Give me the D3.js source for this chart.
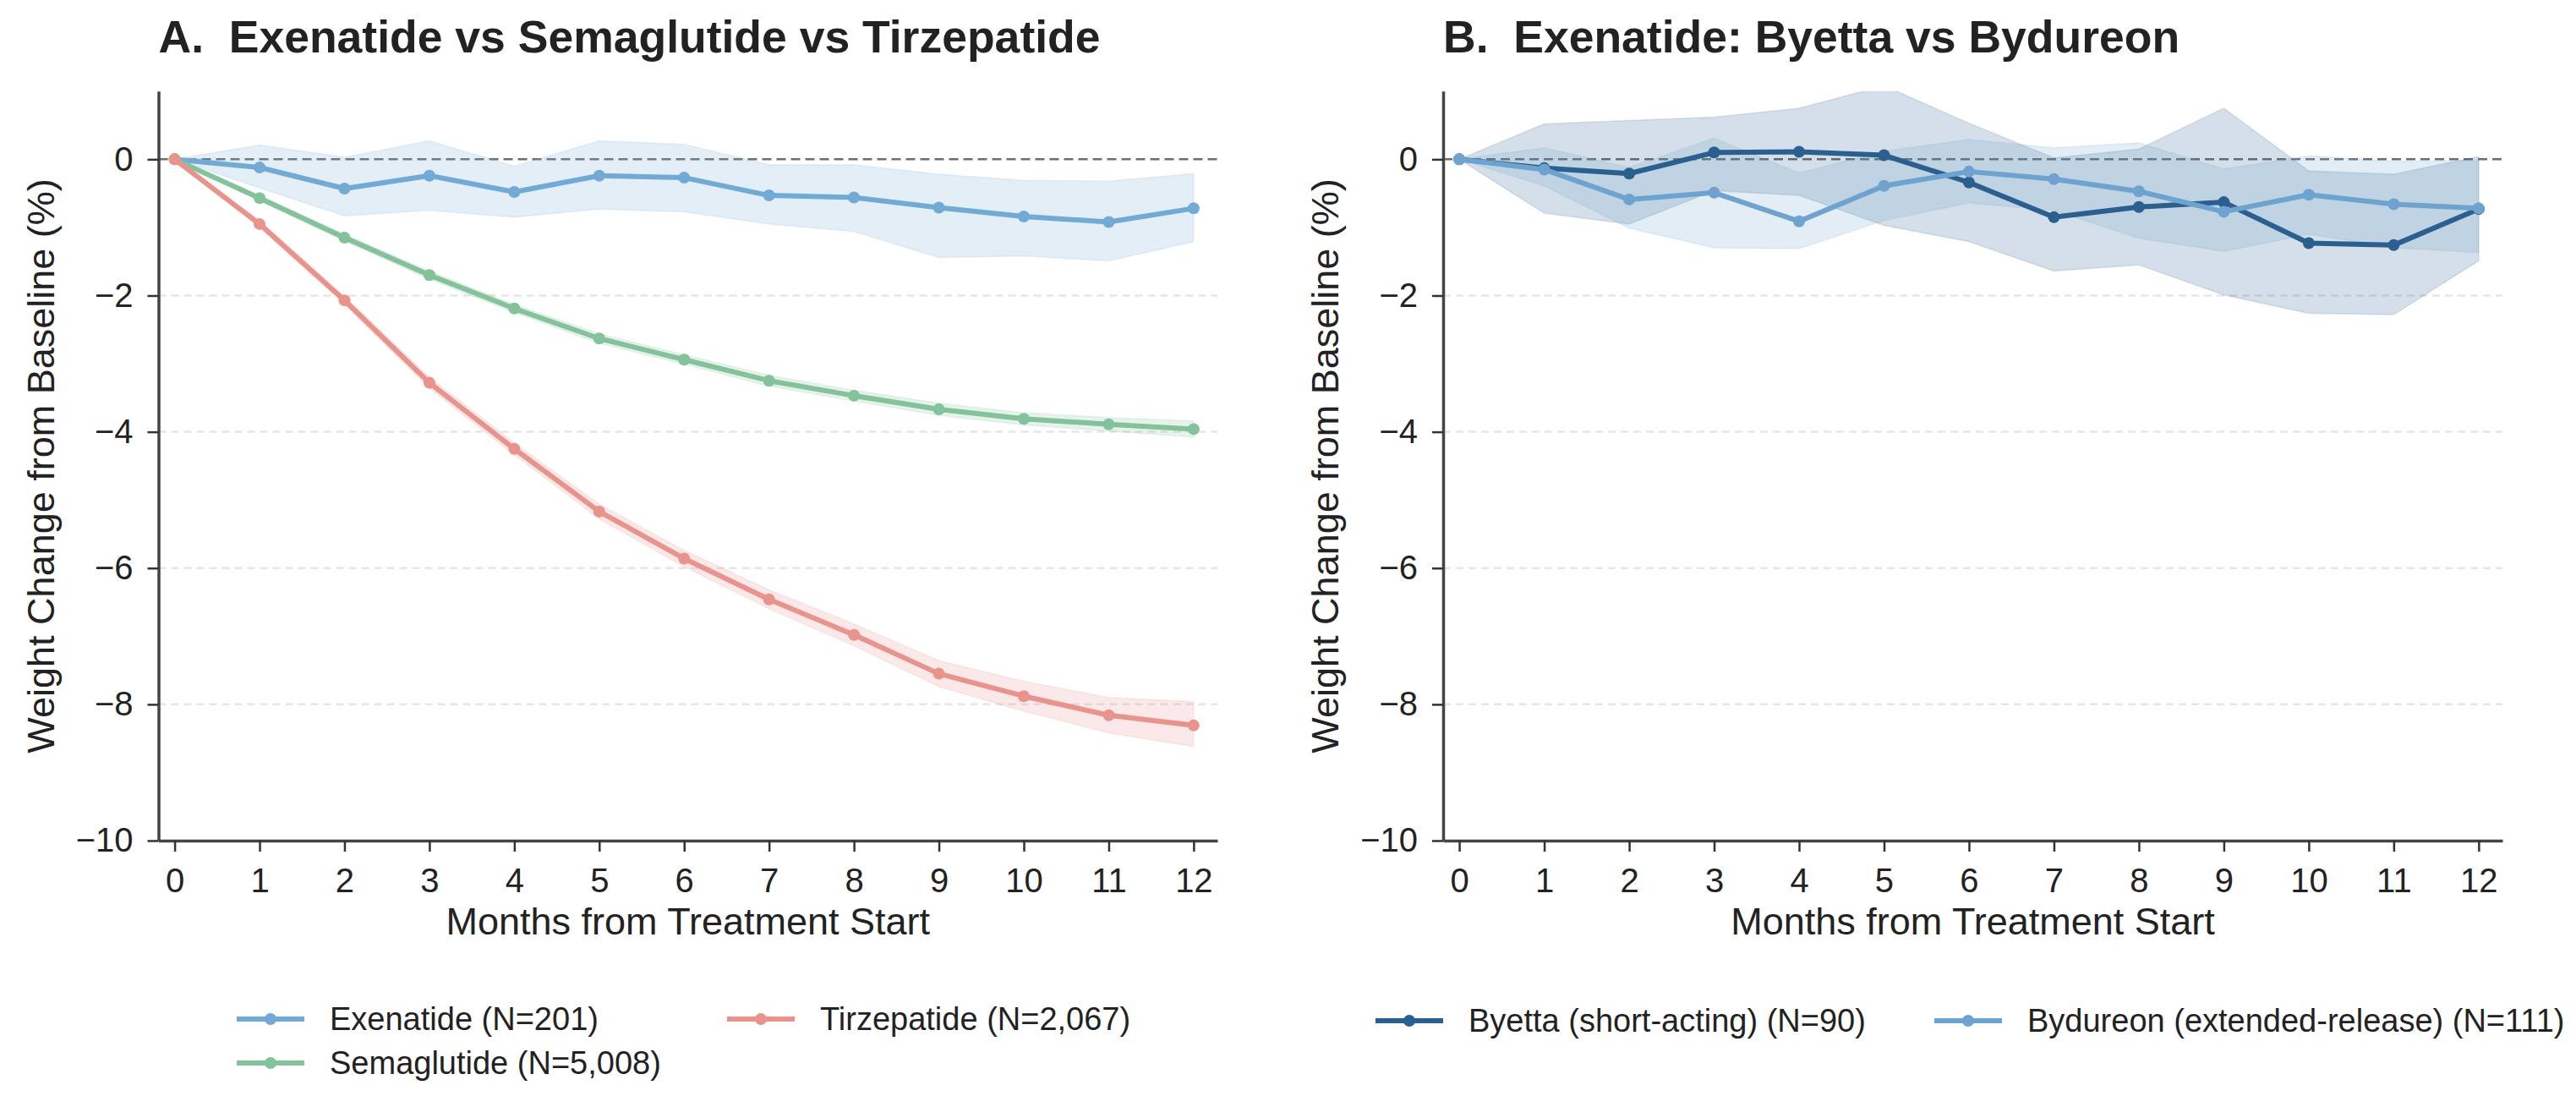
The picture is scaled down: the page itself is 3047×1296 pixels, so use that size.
<!DOCTYPE html>
<html>
<head>
<meta charset="utf-8">
<script src="https://cdnjs.cloudflare.com/ajax/libs/d3/7.8.5/d3.min.js"></script>
<style>
    body { margin: 0; background: #fff; }
    text { font-family: "Liberation Sans", Arial, Helvetica, sans-serif; fill: #222; }
</style>
</head>
<body>
<script>
// months from treatment start
var months = [0, 1, 2, 3, 4, 5, 6, 7, 8, 9, 10, 11, 12];
var yTicks = [-10, -8, -6, -4, -2, 0];

// panel A
var exenatideMean = [0, -0.12, -0.43, -0.24, -0.48, -0.24, -0.27, -0.53, -0.56, -0.71, -0.84, -0.92, -0.72];
var exenatideHi = [0, 0.21, 0.03, 0.27, -0.10, 0.27, 0.22, -0.08, -0.08, -0.22, -0.31, -0.32, -0.21];
var exenatideLo = [0, -0.42, -0.83, -0.75, -0.85, -0.73, -0.77, -0.95, -1.06, -1.44, -1.42, -1.49, -1.21];

var semaglutideMean = [0, -0.57, -1.15, -1.70, -2.19, -2.63, -2.94, -3.25, -3.47, -3.67, -3.81, -3.89, -3.96];
var semaglutideHi = [0, -0.53, -1.10, -1.64, -2.13, -2.56, -2.87, -3.17, -3.39, -3.58, -3.72, -3.79, -3.84];
var semaglutideLo = [0, -0.61, -1.20, -1.76, -2.25, -2.70, -3.01, -3.33, -3.55, -3.76, -3.90, -3.99, -4.08];

var tirzepatideMean = [0, -0.95, -2.07, -3.28, -4.25, -5.17, -5.86, -6.46, -6.98, -7.55, -7.88, -8.16, -8.31];
var tirzepatideHi = [0, -0.90, -2.01, -3.20, -4.16, -5.06, -5.74, -6.32, -6.82, -7.36, -7.66, -7.90, -7.96];
var tirzepatideLo = [0, -1.00, -2.13, -3.36, -4.34, -5.28, -5.98, -6.60, -7.14, -7.74, -8.10, -8.42, -8.62];

// panel B
var byettaMean = [0, -0.13, -0.21, 0.10, 0.11, 0.06, -0.34, -0.85, -0.70, -0.63, -1.23, -1.26, -0.73];
var byettaHi = [0, 0.52, 0.57, 0.62, 0.75, 1.08, 0.53, 0.02, 0.15, 0.75, -0.17, -0.22, 0.04];
var byettaLo = [0, -0.79, -0.95, -0.46, -0.53, -0.97, -1.21, -1.64, -1.55, -1.99, -2.26, -2.28, -1.49];

var bydureonMean = [0, -0.15, -0.59, -0.49, -0.91, -0.39, -0.18, -0.29, -0.47, -0.77, -0.52, -0.66, -0.72];
var bydureonHi = [0, 0.17, -0.12, 0.31, -0.20, 0.12, 0.29, 0.17, 0.24, -0.14, 0.05, -0.03, -0.02];
var bydureonLo = [0, -0.39, -1.01, -1.30, -1.31, -0.90, -0.64, -0.75, -1.16, -1.35, -1.10, -1.30, -1.37];

var seriesA = [
    {label: "Exenatide (N=201)", color: "#72aad6", mean: exenatideMean, hi: exenatideHi, lo: exenatideLo},
    {label: "Semaglutide (N=5,008)", color: "#84c29b", mean: semaglutideMean, hi: semaglutideHi, lo: semaglutideLo},
    {label: "Tirzepatide (N=2,067)", color: "#e8938c", mean: tirzepatideMean, hi: tirzepatideHi, lo: tirzepatideLo}
];
var seriesB = [
    {label: "Byetta (short-acting) (N=90)", color: "#2b5f8f", mean: byettaMean, hi: byettaHi, lo: byettaLo},
    {label: "Bydureon (extended-release) (N=111)", color: "#6ea3cf", mean: bydureonMean, hi: bydureonHi, lo: bydureonLo}
];

var svg = d3.select("body").append("svg")
    .attr("width", 3047)
    .attr("height", 1296);

svg.append("rect").attr("width", 3047).attr("height", 1296).attr("fill", "#fff");

drawPanel({
    id: "A", left: 187.5, right: 1440, title: "A.  Exenatide vs Semaglutide vs Tirzepatide",
    series: seriesA,
    legend: [{x: 280, y: 1205}, {x: 280, y: 1257}, {x: 860, y: 1205}]
});
drawPanel({
    id: "B", left: 1707, right: 2960, title: "B.  Exenatide: Byetta vs Bydureon",
    series: seriesB,
    legend: [{x: 1627, y: 1207}, {x: 2288, y: 1207}]
});

function drawPanel(cfg) {
    var top = 107.8, bottom = 994;

    var x = d3.scaleLinear().domain([-0.19, 12.28]).range([cfg.left, cfg.right]);
    var y = d3.scaleLinear().domain([-10, 1]).range([bottom, top]);

    var g = svg.append("g");

    g.append("clipPath").attr("id", "clip" + cfg.id)
        .append("rect")
        .attr("x", cfg.left).attr("y", top)
        .attr("width", cfg.right - cfg.left).attr("height", bottom - top);

    // grid
    g.selectAll(".grid")
        .data(yTicks.filter(function (d) { return d > -10 && d < 0; }))
        .enter().append("line")
        .attr("x1", cfg.left).attr("x2", cfg.right)
        .attr("y1", function (d) { return y(d); })
        .attr("y2", function (d) { return y(d); })
        .attr("stroke", "#e6e6e6")
        .attr("stroke-width", 2.5)
        .attr("stroke-dasharray", "9,6");

    // zero reference
    g.append("line")
        .attr("x1", cfg.left).attr("x2", cfg.right)
        .attr("y1", y(0)).attr("y2", y(0))
        .attr("stroke", "#6e6e6e")
        .attr("stroke-width", 2.5)
        .attr("stroke-dasharray", "11,6");

    var plot = g.append("g").attr("clip-path", "url(#clip" + cfg.id + ")");

    var area = d3.area()
        .x(function (d, i) { return x(months[i]); })
        .y0(function (d) { return y(d.lo); })
        .y1(function (d) { return y(d.hi); });

    var line = d3.line()
        .x(function (d, i) { return x(months[i]); })
        .y(function (d) { return y(d); });

    cfg.series.forEach(function (s) {
        var band = s.hi.map(function (h, i) { return {hi: h, lo: s.lo[i]}; });
        plot.append("path")
            .datum(band)
            .attr("d", area)
            .attr("fill", s.color)
            .attr("fill-opacity", 0.2)
            .attr("stroke", s.color)
            .attr("stroke-opacity", 0.15)
            .attr("stroke-width", 1.5);
    });

    cfg.series.forEach(function (s) {
        plot.append("path")
            .datum(s.mean)
            .attr("d", line)
            .attr("fill", "none")
            .attr("stroke", s.color)
            .attr("stroke-width", 6)
            .attr("stroke-linejoin", "round");

        plot.selectAll(null)
            .data(s.mean)
            .enter().append("circle")
            .attr("cx", function (d, i) { return x(months[i]); })
            .attr("cy", function (d) { return y(d); })
            .attr("r", 7)
            .attr("fill", s.color);
    });

    // axes
    var xAxis = g.append("g")
        .attr("transform", "translate(0," + bottom + ")")
        .call(d3.axisBottom(x).tickValues(months).tickSize(13).tickSizeOuter(0).tickPadding(20));

    var yAxis = g.append("g")
        .attr("transform", "translate(" + cfg.left + ",0)")
        .call(d3.axisLeft(y).tickValues(yTicks).tickSize(13).tickSizeOuter(0).tickPadding(17));

    [xAxis, yAxis].forEach(function (a) {
        a.select(".domain").attr("stroke", "#444").attr("stroke-width", 3.5);
        a.selectAll(".tick line").attr("stroke", "#333").attr("stroke-width", 2.5);
        a.selectAll(".tick text").attr("font-size", 40).attr("fill", "#222")
            .style("font-family", "'Liberation Sans', Arial, sans-serif");
    });

    g.append("text")
        .attr("x", (cfg.left + cfg.right) / 2)
        .attr("y", 1105)
        .attr("text-anchor", "middle")
        .attr("font-size", 45)
        .text("Months from Treatment Start");

    g.append("text")
        .attr("transform", "translate(" + (cfg.left - 124) + "," + ((top + bottom) / 2) + ") rotate(-90)")
        .attr("text-anchor", "middle")
        .attr("font-size", 45)
        .text("Weight Change from Baseline (%)");

    g.append("text")
        .attr("x", cfg.left)
        .attr("y", 62)
        .attr("font-size", 53.5)
        .attr("font-weight", "bold")
        .attr("fill", "#111")
        .style("white-space", "pre")
        .text(cfg.title);

    // legend
    cfg.series.forEach(function (s, i) {
        var p = cfg.legend[i];
        var item = g.append("g").attr("transform", "translate(" + p.x + "," + p.y + ")");
        item.append("line")
            .attr("x1", 0).attr("x2", 80)
            .attr("stroke", s.color).attr("stroke-width", 6);
        item.append("circle")
            .attr("cx", 40).attr("r", 7).attr("fill", s.color);
        item.append("text")
            .attr("x", 110)
            .attr("dy", "0.35em")
            .attr("font-size", 38)
            .text(s.label);
    });
}
</script>
</body>
</html>
